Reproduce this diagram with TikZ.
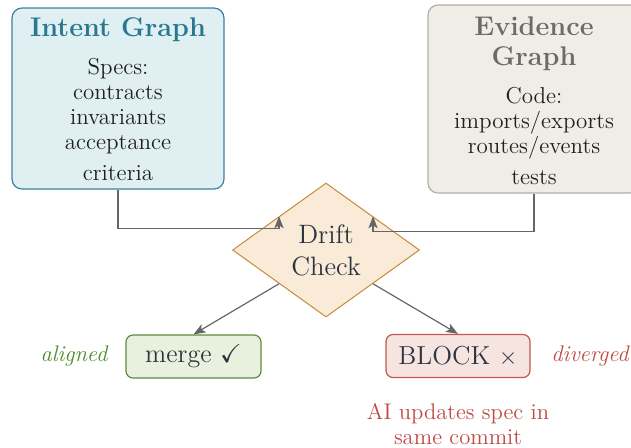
\documentclass[tikz,border=0pt]{standalone}
\usepackage{amssymb}
\usetikzlibrary{shapes.geometric,arrows.meta}
\definecolor{iblue}{HTML}{DFEFF2}
\definecolor{iborder}{HTML}{3A82A0}
\definecolor{ititle}{HTML}{2A7890}
\definecolor{egray}{HTML}{F0EDE7}
\definecolor{eborder}{HTML}{B3AEA8}
\definecolor{etitle}{HTML}{6E6A64}
\definecolor{dfill}{HTML}{FAEBD8}
\definecolor{dborder}{HTML}{C8893A}
\definecolor{mfill}{HTML}{E7F1DD}
\definecolor{mborder}{HTML}{5E8C40}
\definecolor{agreen}{HTML}{4E8A2A}
\definecolor{bfill}{HTML}{F6E4E1}
\definecolor{bborder}{HTML}{C4554F}
\definecolor{bred}{HTML}{BF4A43}
\definecolor{ink}{HTML}{2B3440}
\definecolor{arrowc}{HTML}{666666}
\begin{document}
\begin{tikzpicture}[x=0.5pt,y=-0.5pt,
  panel/.style={draw, line width=0.6pt, rounded corners=5pt, inner sep=0pt},
  titletext/.style={align=center, font=\fontsize{13.5}{15}\selectfont\bfseries, inner sep=0pt},
  bodytext/.style={align=center, font=\fontsize{11.5}{12.5}\selectfont, text=black!88, inner sep=0pt},
  resultbox/.style={draw, line width=0.6pt, rounded corners=3.5pt, inner sep=0pt, minimum height=21.5pt, font=\fontsize{13}{15}\selectfont, text=ink},
  conn/.style={draw=arrowc, line width=0.6pt, -{Stealth[length=6pt,width=4.6pt,inset=1.4pt]}},
  sidelabel/.style={font=\fontsize{11.3}{13}\selectfont\itshape, inner sep=0pt}
]
\useasboundingbox (0,0) rectangle (631,447);
% Intent graph panel
\node[panel, fill=iblue, draw=iborder, minimum width=106pt, minimum height=90.5pt] (I) at (118,98.5) {};
\node[titletext, text=ititle] (Ititle) at (118,30) {Intent Graph};
\node[bodytext] (Ibody) at (118,120) {Specs:\\contracts\\invariants\\acceptance\\[3pt]criteria};
% Evidence graph panel
\node[panel, fill=egray, draw=eborder, minimum width=106pt, minimum height=94pt] (E) at (534,99) {};
\node[titletext, text=etitle] (Etitle) at (534,44) {Evidence\\Graph};
\node[bodytext] (Ebody) at (534,136) {Code:\\imports/exports\\routes/events\\[3pt]tests};
% Drift check diamond
\node[diamond, draw=dborder, fill=dfill, line width=0.5pt, aspect=1.4, minimum width=93.5pt, minimum height=67pt, inner sep=0pt] (D) at (326,250) {};
\node[align=center, text=ink, font=\fontsize{13.3}{16}\selectfont, inner sep=0pt] (Dtext) at (326,250) {Drift\\Check};
% results
\node[resultbox, fill=mfill, draw=mborder, minimum width=67.5pt] (M) at (193.5,356.5) {merge $\checkmark$};
\node[resultbox, fill=bfill, draw=bborder, minimum width=72pt] (B) at (458,356) {BLOCK $\times$};
\node[sidelabel, text=agreen] (al) at (74,356) {aligned};
\node[sidelabel, text=bred] (dv) at (590,356) {diverged};
\node[align=center, text=bred, font=\fontsize{11.3}{12.5}\selectfont, inner sep=0pt] (note) at (458,424) {AI updates spec in\\same commit};
% connectors
\draw[conn] (I.south) -- ++(0,39) -| (D.north west);
\draw[conn] (E.south) -- ++(0,38) -| (D.north east);
\draw[conn] (D.south west) -- (M.north);
\draw[conn] (D.south east) -- (B.north);
\end{tikzpicture}
\end{document}
